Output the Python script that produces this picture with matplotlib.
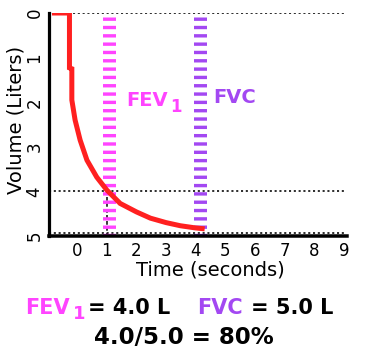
import matplotlib
matplotlib.use("Agg")
import matplotlib.pyplot as plt

# Data
time_s = [-0.85, -0.26, -0.26, -0.18, -0.18, -0.07, 0.1, 0.33, 0.66, 1.0, 1.45, 2.0, 2.47, 3.0, 3.48, 4.0, 4.3]
volume_l = [0.0, 0.0, 1.23, 1.25, 1.95, 2.4, 2.85, 3.3, 3.68, 3.97, 4.27, 4.46, 4.6, 4.7, 4.77, 4.82, 4.84]
x_ticks = [0, 1, 2, 3, 4, 5, 6, 7, 8, 9]
y_ticks = [0, 1, 2, 3, 4, 5]
fev1_time = 1.06
fvc_time = 4.14
fev1_value = 4.0
fvc_value = 5.0

RED = "#ff2020"
MAG = "#ff44ff"
PUR = "#a348f2"

W, H = 374, 358
PX = 72 / 100  # points per pixel
fig = plt.figure(figsize=(W / 100, H / 100), dpi=100)
left, right, top, bottom = 49, 347, 13, 236
ax = fig.add_axes([left / W, 1 - bottom / H, (right - left) / W, (bottom - top) / H])
ax.set_xlim(-0.95, 9.1)
ax.set_ylim(5, 0)

for s in ["top", "right"]:
    ax.spines[s].set_visible(False)
ax.spines["left"].set_linewidth(3.2 * PX)
ax.spines["bottom"].set_linewidth(3.5 * PX)
ax.spines["left"].set_zorder(6)
ax.spines["bottom"].set_zorder(6)
ax.spines["left"].set_capstyle("projecting")

dot = (0, (1.3, 1.7))
ax.plot([-0.95, 9.05], [0, 0], color="black", lw=1.6 * PX, ls=dot, zorder=1)
ax.plot([-0.95, 9.05], [fev1_value, fev1_value], color="black", lw=1.6 * PX, ls=dot, zorder=1)
ax.plot([-0.95, 9.05], [4.93, 4.93], color="black", lw=1.6 * PX, ls=dot, zorder=1)
ax.plot([1, 1], [fev1_value, fvc_value], color="black", lw=1.5 * PX, ls=(0, (2.5, 1.5)), zorder=1)

# FEV1 / FVC markers
mk = 13 * PX
ax.plot([fev1_time, fev1_time], [0.1, 5], color=MAG, lw=mk, ls=(0, (0.26, 0.38)), solid_capstyle="butt", zorder=2)
ax.plot([fvc_time, fvc_time], [0.1, 5], color=PUR, lw=mk, ls=(0, (0.26, 0.38)), solid_capstyle="butt", zorder=2)

# curve
ax.plot(time_s, volume_l, color=RED, lw=5 * PX, zorder=4, solid_joinstyle="miter", solid_capstyle="butt")

ax.text(1.65, 1.96, "FEV", color=MAG, fontsize=14, fontweight="bold", ha="left", va="center")
ax.text(3.15, 2.1, "1", color=MAG, fontsize=12, fontweight="bold", ha="left", va="center")
ax.text(4.6, 1.9, "FVC", color=PUR, fontsize=14, fontweight="bold", ha="left", va="center")

ax.set_xticks(x_ticks)
ax.set_xticklabels([str(v) for v in x_ticks], fontsize=12)
ax.set_yticks(y_ticks)
ax.set_yticklabels([str(v) for v in y_ticks], fontsize=12, rotation=90, va="center")
ax.tick_params(length=0, pad=4)

fig.text(210 / W, 1 - 270 / H, "Time (seconds)", fontsize=14, ha="center", va="center")
fig.text(16 / W, 1 - 120 / H, "Volume (Liters)", fontsize=14, ha="center", va="center", rotation=90)

# bottom summary
fs = 15
y1 = 1 - 308 / H
fig.text(25 / W, y1, "FEV", color=MAG, fontsize=fs, fontweight="bold", ha="left", va="center")
fig.text(73 / W, 1 - 314 / H, "1", color=MAG, fontsize=13, fontweight="bold", ha="left", va="center")
fig.text(88 / W, y1, "= %.1f L" % fev1_value, color="black", fontsize=fs, fontweight="bold", ha="left", va="center")
fig.text(197 / W, y1, "FVC", color=PUR, fontsize=fs, fontweight="bold", ha="left", va="center")
fig.text(251 / W, y1, "= %.1f L" % fvc_value, color="black", fontsize=fs, fontweight="bold", ha="left", va="center")
fig.text(184 / W, 1 - 337 / H, "%.1f/%.1f = %d%%" % (fev1_value, fvc_value, round(100 * fev1_value / fvc_value)),
         color="black", fontsize=16.5, fontweight="bold", ha="center", va="center")

fig.savefig("out.png", dpi=100)
